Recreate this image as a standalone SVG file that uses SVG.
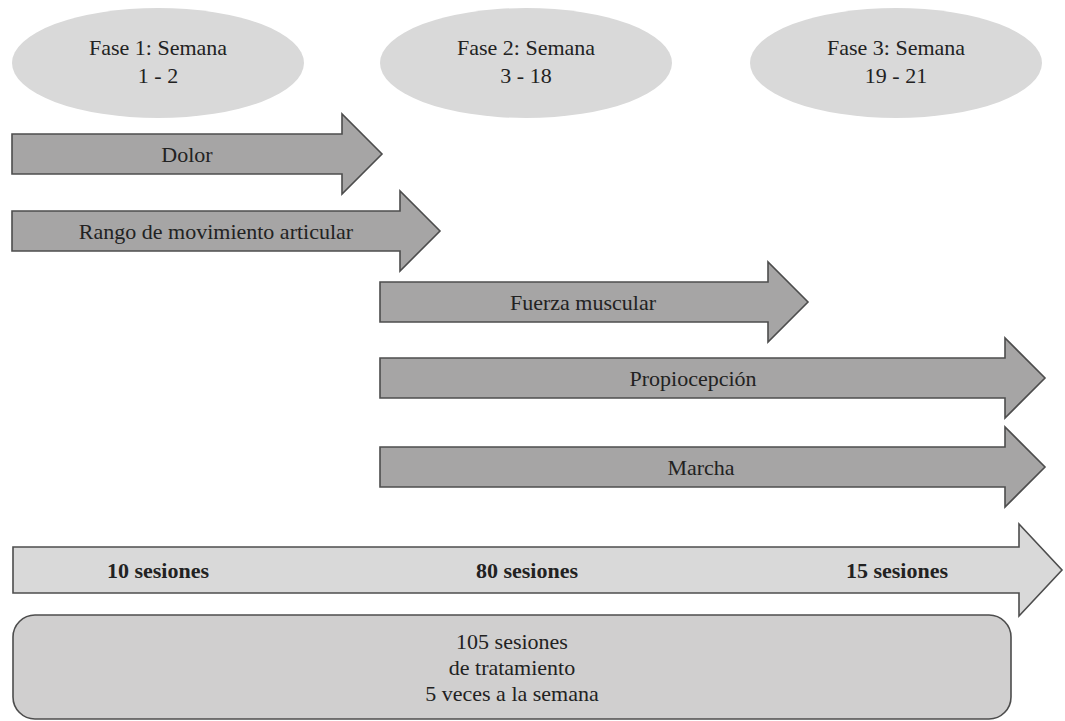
<svg xmlns="http://www.w3.org/2000/svg" width="1065" height="721" viewBox="0 0 1065 721">
<style>
.bg{fill:#ffffff}
.phase{fill:#d9d9d9;stroke:none}
.dark{fill:#a6a5a5;stroke:#4d4d4d;stroke-width:1.6;stroke-linejoin:miter}
.light{fill:#d9d9d9;stroke:#4d4d4d;stroke-width:1.6}
.box{fill:#d0cfcf;stroke:#4d4d4d;stroke-width:1.6}
.t{font-family:'Liberation Serif','DejaVu Serif','Noto Serif',serif;font-size:22px;fill:#222222;text-anchor:middle}
.b{font-weight:bold}
</style>
<rect class="bg" x="0" y="0" width="1065" height="721"/>
<g id="fase1">
<ellipse class="phase" cx="158" cy="63" rx="146" ry="55"/>
<text class="t" x="158" y="55">Fase 1: Semana</text>
<text class="t" x="158" y="83">1 - 2</text>
</g>
<g id="fase2">
<ellipse class="phase" cx="526" cy="63" rx="146" ry="55"/>
<text class="t" x="526" y="55">Fase 2: Semana</text>
<text class="t" x="526" y="83">3 - 18</text>
</g>
<g id="fase3">
<ellipse class="phase" cx="896" cy="63" rx="146" ry="55"/>
<text class="t" x="896" y="55">Fase 3: Semana</text>
<text class="t" x="896" y="83">19 - 21</text>
</g>
<g id="connectors">
<g id="dolor">
<path class="dark" d="M12,134 H342 V114 L382,154 L342,194 V174 H12 Z"/>
<text class="t" x="187" y="162">Dolor</text>
</g>
<g id="rango">
<path class="dark" d="M12,211 H400 V191 L440,231 L400,271 V251 H12 Z"/>
<text class="t" x="216" y="239">Rango de movimiento articular</text>
</g>
<g id="fuerza">
<path class="dark" d="M380,282 H768 V262 L808,302 L768,342 V322 H380 Z"/>
<text class="t" x="583" y="310">Fuerza muscular</text>
</g>
<g id="propiocepcion">
<path class="dark" d="M380,358 H1005 V338 L1045,378 L1005,418 V398 H380 Z"/>
<text class="t" x="693" y="386">Propiocepción</text>
</g>
<g id="marcha">
<path class="dark" d="M380,447 H1005 V427 L1045,467 L1005,507 V487 H380 Z"/>
<text class="t" x="701" y="475">Marcha</text>
</g>
<g id="sesiones">
<path class="light" d="M13,547 H1019 V524 L1062,570 L1019,616 V593 H13 Z"/>
<text class="t b" x="158" y="578">10 sesiones</text>
<text class="t b" x="527" y="578">80 sesiones</text>
<text class="t b" x="897" y="578">15 sesiones</text>
</g>
</g>
<g id="total">
<rect class="box" x="13" y="615" width="998" height="104" rx="22" ry="22"/>
<text class="t" x="512" y="649">105 sesiones</text>
<text class="t" x="512" y="675">de tratamiento</text>
<text class="t" x="512" y="701">5 veces a la semana</text>
</g>
</svg>
